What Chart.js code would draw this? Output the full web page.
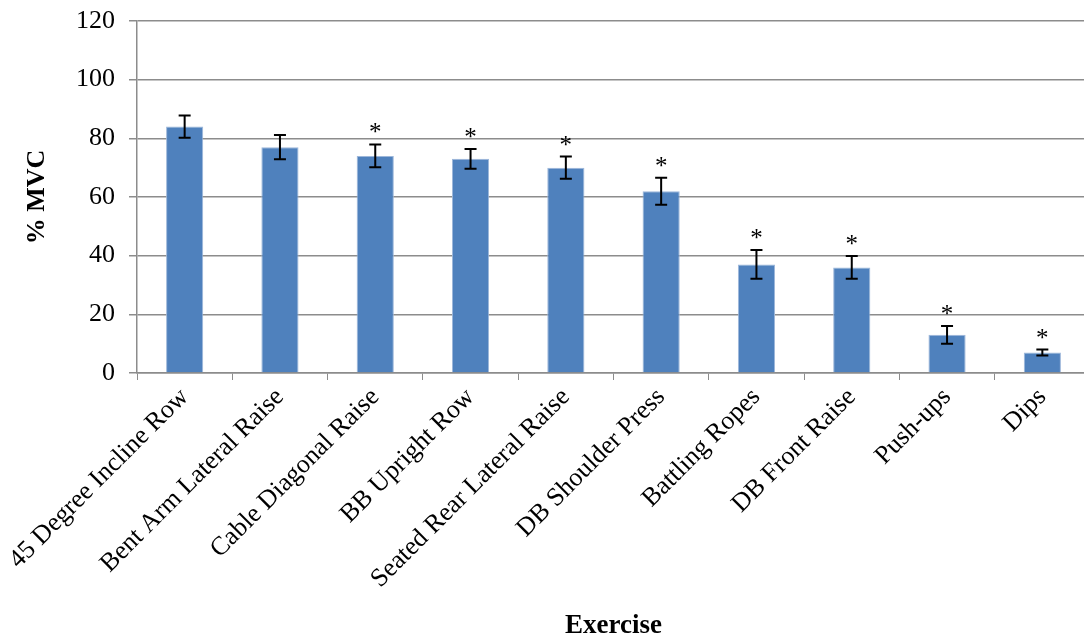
<!DOCTYPE html>
<html>
<head>
<meta charset="utf-8">
<script src="https://cdn.jsdelivr.net/npm/chart.js@4/dist/chart.umd.min.js"></script>
<style>
  html, body { margin: 0; padding: 0; background: #fff; overflow: hidden; }
  #wrap { width: 1090px; height: 642px; }
</style>
</head>
<body>
<div id="wrap"><canvas id="chart"></canvas></div>
<script>
// data
const exercises = ['45 Degree Incline Row','Bent Arm Lateral Raise','Cable Diagonal Raise','BB Upright Row',
  'Seated Rear Lateral Raise','DB Shoulder Press','Battling Ropes','DB Front Raise','Push-ups','Dips'];
const meanMVC = [84, 77, 74, 73, 70, 62, 37, 36, 13, 7];
const errMVC = [3.8, 4.1, 3.9, 3.4, 3.8, 4.6, 4.9, 3.9, 3.0, 1.0];
const significant = [false, false, true, true, true, true, true, true, true, true];
const yTicks = [0, 20, 40, 60, 80, 100, 120];

const serif = "'Liberation Serif', 'Times New Roman', serif";
const gridGray = '#8c8c8c';

// error bars + asterisks
const errorBars = {
  id: 'errorBars',
  afterDatasetsDraw(chart) {
    const ctx = chart.ctx;
    const y = chart.scales.y;
    const meta = chart.getDatasetMeta(0);
    ctx.save();
    ctx.strokeStyle = '#000';
    ctx.lineWidth = 2;
    meta.data.forEach((bar, i) => {
      const top = y.getPixelForValue(meanMVC[i] + errMVC[i]);
      const bot = y.getPixelForValue(meanMVC[i] - errMVC[i]);
      const x = bar.x;
      ctx.beginPath();
      ctx.moveTo(x, top); ctx.lineTo(x, bot);
      ctx.moveTo(x - 6, top); ctx.lineTo(x + 6, top);
      ctx.moveTo(x - 6, bot); ctx.lineTo(x + 6, bot);
      ctx.stroke();
      if (significant[i]) {
        ctx.fillStyle = '#000';
        ctx.font = '25px ' + serif;
        ctx.textAlign = 'center';
        ctx.textBaseline = 'alphabetic';
        ctx.fillText('*', x, top - 4);
      }
    });
    ctx.restore();
  }
};

new Chart(document.getElementById('chart'), {
  type: 'bar',
  data: {
    labels: exercises,
    datasets: [{
      data: meanMVC,
      backgroundColor: '#4F81BD',
      borderColor: '#9db7da',
      borderWidth: 1,
      barPercentage: 0.39,
      categoryPercentage: 1
    }]
  },
  options: {
    responsive: true,
    maintainAspectRatio: false,
    animation: false,
    layout: { padding: { top: 0, right: 0, left: 0, bottom: 0 } },
    plugins: { legend: { display: false }, tooltip: { enabled: false } },
    scales: {
      x: {
        afterFit(axis) { axis.height = 269; },
        grid: { display: true, drawOnChartArea: false, offset: true, color: gridGray, tickLength: 7 },
        border: { color: gridGray, width: 1.5 },
        ticks: { color: '#000', font: { family: serif, size: 26 }, minRotation: 45, maxRotation: 45, padding: 2, autoSkip: false },
        title: { display: true, text: 'Exercise', color: '#000', font: { family: serif, size: 27, weight: 'bold' }, padding: { top: 8, bottom: 0 } }
      },
      y: {
        min: 0, max: 120,
        afterBuildTicks(axis) { axis.ticks = yTicks.map(v => ({ value: v })); },
        afterFit(axis) { axis.width = 137; axis.paddingTop = 21; axis.paddingBottom = 0; },
        grid: { color: gridGray, lineWidth: 1.5, tickLength: 8 },
        border: { color: gridGray, width: 1.5 },
        ticks: { color: '#000', font: { family: serif, size: 26 }, padding: 14 },
        title: { display: true, text: '% MVC', color: '#000', font: { family: serif, size: 26, weight: 'bold' }, padding: { top: 22, bottom: 6 } }
      }
    }
  },
  plugins: [errorBars]
});
</script>
</body>
</html>
